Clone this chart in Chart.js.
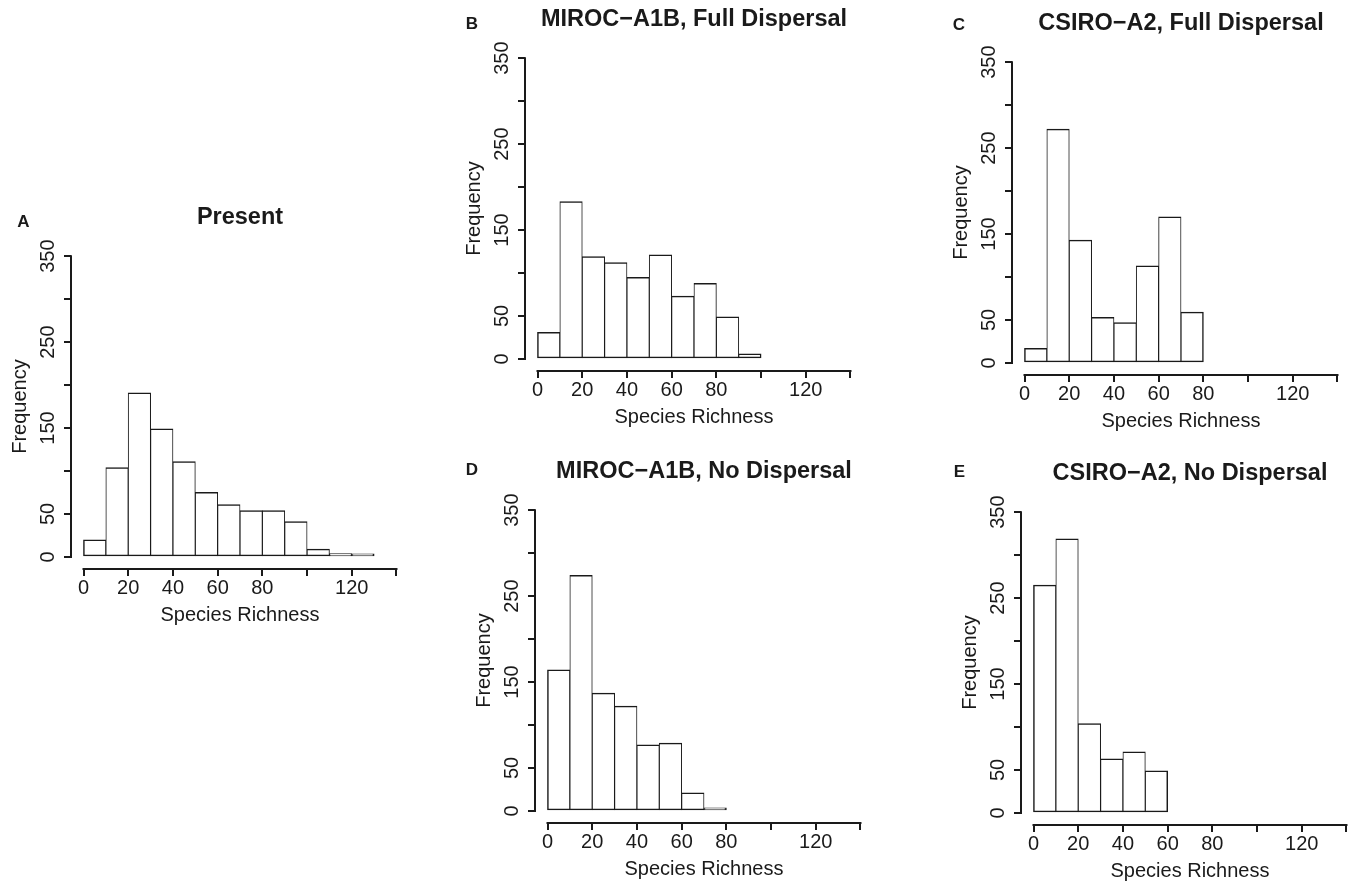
<!DOCTYPE html>
<html>
<head>
<meta charset="utf-8">
<script src="https://cdn.jsdelivr.net/npm/chart.js@4.4.1/dist/chart.umd.min.js"></script>
<style>
  html, body { margin: 0; padding: 0; background: #fff; overflow: hidden; width: 1353px; height: 882px; }
  canvas { position: absolute; }
</style>
</head>
<body>
<canvas id="panelA" width="410" height="440" style="left:1px;top:191px"></canvas>
<canvas id="panelB" width="410" height="440" style="left:455px;top:-7px"></canvas>
<canvas id="panelC" width="410" height="440" style="left:942px;top:-3px"></canvas>
<canvas id="panelD" width="410" height="440" style="left:465px;top:445px"></canvas>
<canvas id="panelE" width="410" height="440" style="left:951px;top:447px"></canvas>
<script>
// ---- data: histogram bins (lower edges, width 10) and counts per panel ----
const binStarts = [0, 10, 20, 30, 40, 50, 60, 70, 80, 90, 100, 110, 120];
const binWidth = 10;

const presentCounts   = [20, 104, 191, 149, 111, 75, 61, 54, 54, 41, 9, 4, 1];
const mirocFullCounts = [31, 183, 119, 112, 95, 121, 73, 88, 49, 6];
const csiroFullCounts = [17, 272, 143, 53, 47, 113, 170, 59];
const mirocNoCounts   = [164, 274, 137, 122, 77, 79, 21, 3];
const csiroNoCounts   = [265, 319, 104, 63, 71, 49];

const panelTitles  = ['Present', 'MIROC\u2212A1B, Full Dispersal', 'CSIRO\u2212A2, Full Dispersal',
                      'MIROC\u2212A1B, No Dispersal', 'CSIRO\u2212A2, No Dispersal'];
const panelLetters = ['A', 'B', 'C', 'D', 'E'];

// axis ranges and which tick labels R printed
const xLimits = [0, 140];
const yLimits = [0, 350];
const xTickLabels = [0, 20, 40, 60, 80, 120];
const yTickLabels = [0, 50, 150, 250, 350];

const INK = '#1a1a1a';
Chart.defaults.font.family = '"Liberation Sans", Arial, Helvetica, sans-serif';
Chart.defaults.color = INK;

// R style axes: line only between first and last tick, plus the panel letter
const rAxes = {
  id: 'rAxes',
  afterDraw(chart, args, opts) {
    const { ctx, chartArea, scales: { x, y } } = chart;
    ctx.save();
    ctx.strokeStyle = INK;
    ctx.lineWidth = 2;
    ctx.beginPath();
    ctx.moveTo(x.getPixelForValue(x.ticks[0].value) - 1, chartArea.bottom);
    ctx.lineTo(x.getPixelForValue(x.ticks[x.ticks.length - 1].value) + 1, chartArea.bottom);
    ctx.moveTo(chartArea.left, y.getPixelForValue(y.ticks[0].value) + 1);
    ctx.lineTo(chartArea.left, y.getPixelForValue(y.ticks[y.ticks.length - 1].value) - 1);
    ctx.stroke();

    ctx.fillStyle = INK;
    ctx.font = 'bold 17px "Liberation Sans", Arial, sans-serif';
    ctx.textAlign = 'center';
    ctx.textBaseline = 'middle';
    ctx.fillText(opts.letter, chartArea.left + opts.dx, chartArea.top + opts.dy);
    ctx.restore();
  }
};

const ext = r => [r[0] - (r[1] - r[0]) * 0.04, r[1] + (r[1] - r[0]) * 0.04];

function makeHist(id, title, letter, counts, letterPos) {
  const points = counts.map((c, i) => ({ x: binStarts[i] + binWidth / 2, y: c }));
  const last = counts.length - 1;
  const xr = ext(xLimits), yr = ext(yLimits);
  return new Chart(document.getElementById(id), {
    type: 'bar',
    data: {
      datasets: [{
        data: points,
        backgroundColor: '#ffffff',
        borderColor: INK,
        borderWidth: c => ({
          top: 1.5, bottom: 1.5,
          left: c.dataIndex === 0 ? 1.5 : 1,
          right: c.dataIndex === last ? 1.5 : 1
        }),
        inflateAmount: 0.4,
        minBarLength: 3,
        borderSkipped: false,
        barPercentage: 1,
        categoryPercentage: 1
      }]
    },
    options: {
      responsive: false,
      animation: false,
      events: [],
      layout: { padding: { right: 2 } },
      plugins: {
        legend: { display: false },
        tooltip: { enabled: false },
        title: {
          display: true, text: title, fullSize: false, color: INK,
          font: { size: 23.5, weight: 'bold' },
          padding: { top: 12, bottom: 12.9 }
        },
        rAxes: { letter: letter, dx: letterPos[0], dy: letterPos[1] }
      },
      scales: {
        x: {
          type: 'linear', min: xr[0], max: xr[1], offset: false,
          grid: { drawOnChartArea: false, drawTicks: true, tickLength: 7, tickWidth: 2, lineWidth: 2, color: INK, offset: false },
          border: { display: false },
          ticks: {
            stepSize: 20, includeBounds: false, autoSkip: false, minRotation: 0, maxRotation: 0,
            padding: 0, color: INK, font: { size: 20 },
            callback: v => xTickLabels.includes(v) ? String(v) : ''
          },
          title: { display: true, text: 'Species Richness', color: INK, font: { size: 20 }, padding: { top: 0, bottom: 3.5 } },
          afterFit: s => { s.height = 62; }
        },
        y: {
          type: 'linear', min: yr[0], max: yr[1],
          grid: { drawOnChartArea: false, drawTicks: true, tickLength: 7, tickWidth: 2, lineWidth: 2, color: INK },
          border: { display: false },
          ticks: {
            stepSize: 50, includeBounds: false, autoSkip: false, minRotation: 90, maxRotation: 90,
            crossAlign: 'center', padding: -1, color: INK, font: { size: 20 },
            callback: v => yTickLabels.includes(v) ? String(v) : ''
          },
          title: { display: true, text: 'Frequency', color: INK, font: { size: 20 }, padding: { top: 7.2, bottom: 0 } },
          afterFit: s => { s.width = 70; }
        }
      }
    },
    plugins: [rAxes]
  });
}

makeHist('panelA', panelTitles[0], panelLetters[0], presentCounts,   [-47.5, -22]);
makeHist('panelB', panelTitles[1], panelLetters[1], mirocFullCounts, [-53, -21.3]);
makeHist('panelC', panelTitles[2], panelLetters[2], csiroFullCounts, [-53, -24.8]);
makeHist('panelD', panelTitles[3], panelLetters[3], mirocNoCounts,   [-63, -28]);
makeHist('panelE', panelTitles[4], panelLetters[4], csiroNoCounts,   [-61.6, -28]);
</script>
</body>
</html>
